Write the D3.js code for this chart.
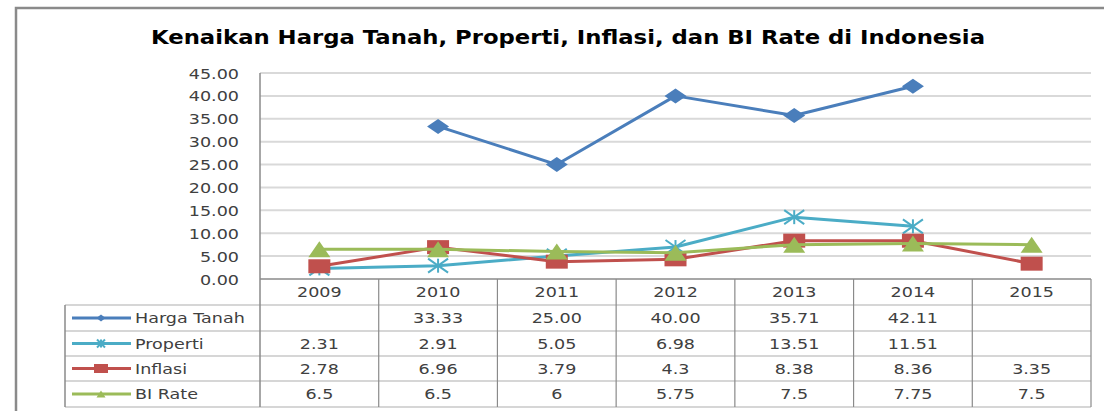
<!DOCTYPE html>
<html><head><meta charset="utf-8">
<script src="https://cdn.jsdelivr.net/npm/d3@7/dist/d3.min.js"></script>
<style>body{margin:0;background:#fff}svg{display:block}</style>
</head><body>
<script>
const title = "Kenaikan Harga Tanah, Properti, Inflasi, dan BI Rate di Indonesia";
const years = ["2009","2010","2011","2012","2013","2014","2015"];
const seriesNames = ["Harga Tanah","Properti","Inflasi","BI Rate"];
const hargaTanah = [null, 33.33, 25.00, 40.00, 35.71, 42.11, null];
const properti   = [2.31, 2.91, 5.05, 6.98, 13.51, 11.51, null];
const inflasi    = [2.78, 6.96, 3.79, 4.3, 8.38, 8.36, 3.35];
const biRate     = [6.5, 6.5, 6, 5.75, 7.5, 7.75, 7.5];
const tableLabels = [
  [null,"33.33","25.00","40.00","35.71","42.11",null],
  ["2.31","2.91","5.05","6.98","13.51","11.51",null],
  ["2.78","6.96","3.79","4.3","8.38","8.36","3.35"],
  ["6.5","6.5","6","5.75","7.5","7.75","7.5"]
];
const yTicks = [0,5,10,15,20,25,30,35,40,45];

(function(){
const W = 1104, H = 411, SX = 1.3;
const colors = ["#4a7ebb","#4bacc6","#c0504d","#9bbb59"];
const markers = ["diamond","star","square","triangle"];
const seriesData = [hargaTanah, properti, inflasi, biRate];

const svg = d3.select("body").append("svg").attr("width", W).attr("height", H);

// outer frame
svg.append("rect").attr("x",16).attr("y",8).attr("width",W).attr("height",H)
  .attr("fill","none").attr("stroke","#8a8a8a").attr("stroke-width",2.5);

svg.append("text").attr("x",151).attr("y",44)
  .attr("textLength",834).attr("lengthAdjust","spacingAndGlyphs")
  .attr("font-family","DejaVu Sans").attr("font-weight","bold").attr("font-size",20)
  .attr("fill","#000").text(title);

const pLeft = 260, pRight = 1091, pTop = 73, pBottom = 279;
const x = d3.scaleBand().domain(years).range([pLeft, pRight]);
const y = d3.scaleLinear().domain([0,45]).range([pBottom, pTop]);

// gridlines
svg.append("g").selectAll("line").data(yTicks.filter(d=>d>0)).join("line")
  .attr("x1",pLeft).attr("x2",pRight).attr("y1",d=>y(d)).attr("y2",d=>y(d))
  .attr("stroke","#d9d9d9").attr("stroke-width",2);

// y axis
const yAxis = svg.append("g").attr("transform",`translate(${pLeft},0)`)
  .call(d3.axisLeft(y).tickValues(yTicks).tickFormat(d3.format(".2f")).tickSize(0));
yAxis.select(".domain").remove();
yAxis.selectAll("text").attr("x",0).attr("dy",null)
  .attr("transform","translate(-21,5) scale(" + SX + ",1)")
  .attr("font-family","DejaVu Sans").attr("font-size",13.5).attr("fill","#404040");

// table geometry
const rowTop = [279,305,331,356,381,407];
const tableLeft = 65;
const tg = svg.append("g");
tg.selectAll("line.h").data(rowTop.slice(1)).join("line").attr("class","h")
  .attr("x1",tableLeft).attr("x2",pRight).attr("y1",d=>d).attr("y2",d=>d)
  .attr("stroke","#c8c8c8").attr("stroke-width",1.5);
tg.append("line").attr("x1",pLeft).attr("x2",pRight).attr("y1",pBottom).attr("y2",pBottom)
  .attr("stroke","#8a8a8a").attr("stroke-width",1.5);
tg.append("line").attr("x1",pLeft).attr("x2",pLeft).attr("y1",pTop).attr("y2",407)
  .attr("stroke","#8a8a8a").attr("stroke-width",1.5);
tg.append("line").attr("x1",tableLeft).attr("x2",tableLeft).attr("y1",305).attr("y2",407)
  .attr("stroke","#8a8a8a").attr("stroke-width",1.5);
tg.selectAll("line.v").data(years).join("line").attr("class","v")
  .attr("x1",d=>x(d)+x.bandwidth()).attr("x2",d=>x(d)+x.bandwidth())
  .attr("y1",pBottom).attr("y2",407).attr("stroke","#8a8a8a").attr("stroke-width",1.2);

function txt(g, px, py, s, anchor, size) {
  return g.append("text").attr("transform",`translate(${px},${py}) scale(${SX},1)`)
    .attr("text-anchor",anchor).attr("font-family","DejaVu Sans").attr("font-size",size)
    .attr("fill","#404040").text(s);
}
years.forEach(yr => txt(tg, x(yr)+x.bandwidth()/2, 297, yr, "middle", 13.5));
tableLabels.forEach((row, r) => {
  const cy = (rowTop[r+1]+rowTop[r+2])/2 + 5;
  row.forEach((v, i) => { if (v !== null) txt(tg, x(years[i])+x.bandwidth()/2, cy, v, "middle", 13.5); });
  txt(tg, 135, cy, seriesNames[r], "start", 13.5);
});

function drawMarker(g, type, cx, cy, color, w, h) {
  if (type === "diamond") {
    g.append("path").attr("d",`M${cx-w/2},${cy}L${cx},${cy-h/2}L${cx+w/2},${cy}L${cx},${cy+h/2}Z`).attr("fill",color);
  } else if (type === "square") {
    g.append("rect").attr("x",cx-w/2).attr("y",cy-h/2).attr("width",w).attr("height",h).attr("fill",color);
  } else if (type === "triangle") {
    g.append("path").attr("d",`M${cx-w/2},${cy+h/2}L${cx},${cy-h/2}L${cx+w/2},${cy+h/2}Z`).attr("fill",color);
  } else if (type === "star") {
    const p = [[-w/2,-h/2,w/2,h/2],[-w/2,h/2,w/2,-h/2],[0,-h/2,0,h/2]];
    p.forEach(q => g.append("line").attr("x1",cx+q[0]).attr("y1",cy+q[1]).attr("x2",cx+q[2]).attr("y2",cy+q[3])
      .attr("stroke",color).attr("stroke-width",2));
  }
}
const msize = [[22,15],[20,14],[22,14],[22,16]];

const line = d3.line().defined(d=>d.v!==null).x(d=>x(d.k)+x.bandwidth()/2).y(d=>y(d.v));
seriesData.forEach((arr, s) => {
  const g = svg.append("g");
  const pts = arr.map((v,i)=>({k:years[i], v}));
  g.append("path").attr("d", line(pts)).attr("fill","none").attr("stroke",colors[s])
    .attr("stroke-width",3).attr("stroke-linejoin","round");
  pts.filter(d=>d.v!==null).forEach(d =>
    drawMarker(g, markers[s], x(d.k)+x.bandwidth()/2, y(d.v), colors[s], msize[s][0], msize[s][1]));
  const cy = (rowTop[s+1]+rowTop[s+2])/2;
  g.append("line").attr("x1",72).attr("x2",131).attr("y1",cy).attr("y2",cy)
    .attr("stroke",colors[s]).attr("stroke-width",3);
  const ls = [[9,7],[8,8],[14,9],[9,7]][s];
  drawMarker(g, markers[s], 101, cy, colors[s], ls[0], ls[1]);
});
})();
</script>
</body></html>
